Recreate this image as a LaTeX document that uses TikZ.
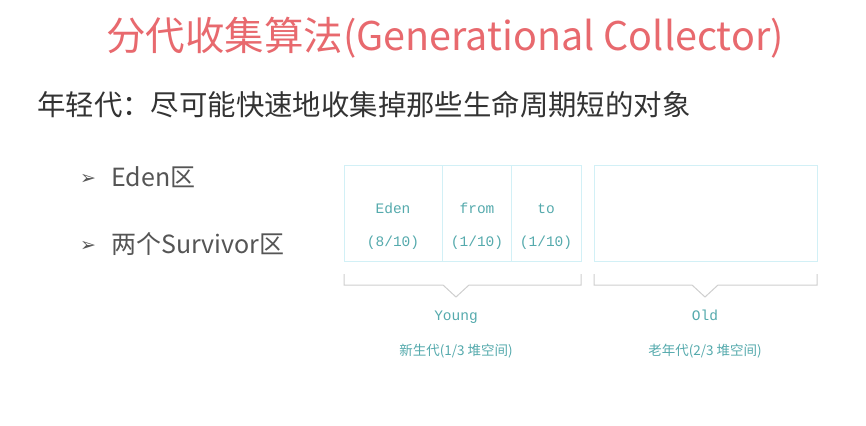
\documentclass[tikz,border=0pt]{standalone}
\usepackage{fontspec}
\newfontfamily\cjk{Noto Sans CJK SC}
\newfontfamily\monof{Liberation Mono}
\newfontfamily\symf{DejaVu Sans}
\definecolor{titlered}{HTML}{E8696E}
\definecolor{darktext}{HTML}{333333}
\definecolor{bullettext}{HTML}{555555}
\definecolor{teal}{HTML}{55AAAD}
\definecolor{boxline}{HTML}{D2F0F6}
\definecolor{brace}{HTML}{CFCFCF}
\begin{document}
\begin{tikzpicture}[x=1pt,y=-1pt,
  title/.style={font=\cjk\fontsize{39.5}{42}\selectfont, text=titlered, inner sep=0pt},
  subtitle/.style={font=\cjk\fontsize{28.4}{31}\selectfont, text=darktext, inner sep=0pt, anchor=west},
  bul/.style={font=\symf\fontsize{19}{21}\selectfont, text=bullettext, inner sep=0pt},
  bultext/.style={font=\cjk\fontsize{25}{27}\selectfont, text=bullettext, inner sep=0pt, anchor=west},
  region/.style={draw=boxline, line width=0.8pt, fill=white},
  mono/.style={font=\monof\fontsize{14.5}{16}\selectfont, text=teal, inner sep=0pt, anchor=base},
  cjklabel/.style={font=\cjk\fontsize{13.5}{15}\selectfont, text=teal, inner sep=0pt},
  bracket/.style={draw=brace, line width=1pt}
]
\useasboundingbox[fill=white] (0,0) rectangle (866,425);

\node[title] (t) at (445,38) {分代收集算法(Generational Collector)};
\node[subtitle] (s) at (37,105) {年轻代：尽可能快速地收集掉那些生命周期短的对象};

\node[bul] (b1) at (88,179) {➢};
\node[bultext] (l1) at (111,177) {Eden区};
\node[bul] (b2) at (88,246) {➢};
\node[bultext] (l2) at (111,244) {两个Survivor区};

% region boxes
\node[region, minimum width=98pt, minimum height=96pt, anchor=north west] (eden) at (344,165) {};
\node[region, minimum width=69pt, minimum height=96pt, anchor=north west] (from) at (442,165) {};
\node[region, minimum width=70pt, minimum height=96pt, anchor=north west] (to) at (511,165) {};
\node[region, minimum width=223pt, minimum height=96pt, anchor=north west] (old) at (594,165) {};

\node[mono] (edenA) at (393,213) {Eden};
\node[mono] (edenB) at (393,246) {(8/10)};
\node[mono] (fromA) at (477,213) {from};
\node[mono] (fromB) at (477,246) {(1/10)};
\node[mono] (toA) at (546,213) {to};
\node[mono] (toB) at (546,246) {(1/10)};

% brackets
\coordinate (ya) at (344,274);
\coordinate (yb) at (581,274);
\coordinate (oa) at (594,274);
\coordinate (ob) at (817,274);
\draw[bracket] (ya) -- ++(0,11) -- (443,285) -- (456,297) -- (469,285) -- (581,285) -- (yb);
\draw[bracket] (oa) -- ++(0,11) -- (692,285) -- (705,297) -- (718,285) -- (817,285) -- (ob);

\node[mono] (young) at (456,320) {Young};
\node[mono] (oldl) at (705,320) {Old};
\node[cjklabel] (yl) at (456,351) {新生代(1/3 堆空间)};
\node[cjklabel] (ol) at (705,351) {老年代(2/3 堆空间)};
\end{tikzpicture}
\end{document}
